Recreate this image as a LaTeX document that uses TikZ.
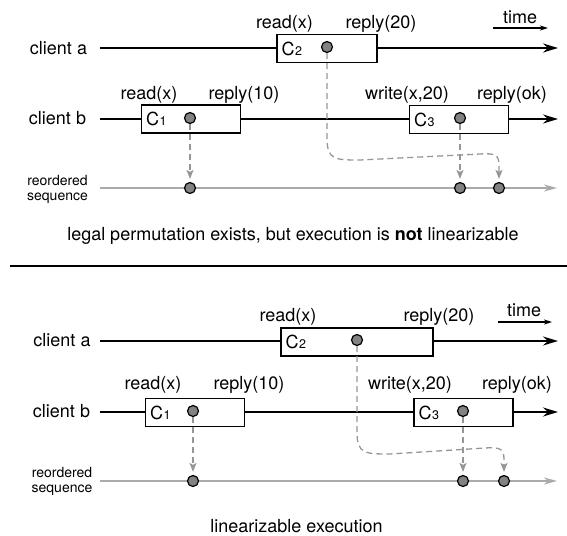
\documentclass[tikz,border=0pt]{standalone}
\usepackage{fontspec}
\setmainfont{TeX Gyre Heros}
\usetikzlibrary{arrows.meta}
\definecolor{dotgray}{RGB}{130,130,130}
\definecolor{dashgray}{RGB}{150,150,150}
\definecolor{seqgray}{RGB}{170,170,170}
\tikzset{
  timeline/.style={line width=1.8pt,-{Stealth[length=15pt,width=9pt,inset=5pt]}},
  seqline/.style={line width=1.6pt,draw=seqgray,-{Stealth[length=13pt,width=7pt,inset=4pt]}},
  opbox/.style={draw,line width=1.3pt,fill=white,minimum width=99pt,minimum height=28pt,inner sep=0pt},
  evdot/.style={circle,draw,line width=1.2pt,fill=dotgray,minimum size=11pt,inner sep=0pt},
  dasharrow/.style={draw=dashgray,line width=1.3pt,dash pattern=on 6pt off 4pt,shorten >=3pt,-{Stealth[length=9pt,width=7pt,inset=2pt]}},
  lbl/.style={font=\fontsize{18}{20}\selectfont,inner sep=0pt},
  small/.style={font=\fontsize{14}{17}\selectfont,inner sep=0pt,align=center},
  captxt/.style={font=\fontsize{18}{20}\selectfont,inner sep=0pt},
  timearrow/.style={line width=1.1pt,-{Stealth[length=8pt,width=5pt,inset=2pt]}},
}
\newcommand{\opname}[1]{C\kern0.5pt{\fontsize{12.5}{14}\selectfont #1}}
\begin{document}
\begin{tikzpicture}[x=1pt,y=-1pt]
\useasboundingbox (0,0) rectangle (567,535);
% ===================== top panel =====================
\coordinate (a0) at (100,48);
\coordinate (a1) at (558,48);
\coordinate (b0) at (100,119);
\coordinate (b1) at (558,119);
\coordinate (s0) at (100,188);
\coordinate (s1) at (557,188);
\coordinate (t0) at (493,28);
\coordinate (t1) at (548,28);
\node[lbl] (ca) at (58.5,48) {client a};
\node[lbl] (cb) at (57.5,118.5) {client b};
\node[small] (rs) at (57.5,189) {reordered\\[-2pt]sequence};
\draw[timeline] (a0) -- (a1);
\draw[timeline] (b0) -- (b1);
\draw[seqline] (s0) -- (s1);
\draw[timearrow] (t0) -- (t1);
\node[lbl] (time) at (520,17) {time};
\node[opbox,minimum width=100pt] (c2) at (327,48.5) {};
\node[opbox] (c1) at (191,119) {};
\node[opbox] (c3) at (459,119.5) {};
\node[lbl,anchor=west] (c2l) at ([xshift=5pt]c2.west) {\opname{2}};
\node[lbl,anchor=west] (c1l) at ([xshift=5pt]c1.west) {\opname{1}};
\node[lbl,anchor=west] (c3l) at ([xshift=5pt]c3.west) {\opname{3}};
\node[lbl] (r2) at (284.5,23.5) {read(x)};
\node[lbl] (p2) at (381,23.5) {reply(20)};
\node[lbl] (r1) at (149,94.5) {read(x)};
\node[lbl] (p1) at (244,94.5) {reply(10)};
\node[lbl] (w3) at (407,94.5) {write(x,20)};
\node[lbl] (p3) at (512,94.5) {reply(ok)};
\node[evdot] (d2) at (327,47) {};
\node[evdot] (d1) at (190,118) {};
\node[evdot] (d3) at (460,118) {};
\node[evdot] (e1) at (190,188) {};
\node[evdot] (e3) at (460,188) {};
\node[evdot] (e2) at (499,188) {};
\draw[dasharrow] (d1) -- (e1);
\draw[dasharrow] (d3) -- (e3);
\draw[dasharrow] (d2) -- (327,138) .. controls (327,160) and (335,160) .. (360,160) -- (480,154) .. controls (496,153) and (499,155) .. (499,166) -- (e2);
\node[captxt] (cap1) at (293,236) {legal permutation exists, but execution is \textbf{not} linearizable};
% separator
\coordinate (sep0) at (10,266);
\coordinate (sep1) at (567,266);
\draw[line width=1.6pt] (sep0) -- (sep1);
% ===================== bottom panel =====================
\coordinate (A0) at (100,341);
\coordinate (A1) at (558,341);
\coordinate (B0) at (100,412);
\coordinate (B1) at (558,412);
\coordinate (S0) at (100,481);
\coordinate (S1) at (557,481);
\coordinate (T0) at (498,322);
\coordinate (T1) at (552,322);
\node[lbl] (Ca) at (62,340.5) {client a};
\node[lbl] (Cb) at (61.5,411) {client b};
\node[small] (Rs) at (62,481) {reordered\\[-2pt]sequence};
\draw[timeline] (A0) -- (A1);
\draw[timeline] (B0) -- (B1);
\draw[seqline] (S0) -- (S1);
\draw[timearrow] (T0) -- (T1);
\node[lbl] (Time) at (524,310) {time};
\node[opbox,minimum width=152pt] (C2) at (357,342) {};
\node[opbox] (C1) at (195,412.5) {};
\node[opbox] (C3) at (463.5,412.5) {};
\node[lbl,anchor=west] (C2l) at ([xshift=5pt]C2.west) {\opname{2}};
\node[lbl,anchor=west] (C1l) at ([xshift=5pt]C1.west) {\opname{1}};
\node[lbl,anchor=west] (C3l) at ([xshift=5pt]C3.west) {\opname{3}};
\node[lbl] (R2) at (288,316.5) {read(x)};
\node[lbl] (P2) at (439,316.5) {reply(20)};
\node[lbl] (R1) at (153,385) {read(x)};
\node[lbl] (P1) at (249,385) {reply(10)};
\node[lbl] (W3) at (410,385) {write(x,20)};
\node[lbl] (P3) at (517,385) {reply(ok)};
\node[evdot] (D2) at (357,340) {};
\node[evdot] (D1) at (193,411) {};
\node[evdot] (D3) at (463,411) {};
\node[evdot] (E1) at (193,481) {};
\node[evdot] (E3) at (463,481) {};
\node[evdot] (E2) at (504,481) {};
\draw[dasharrow] (D1) -- (E1);
\draw[dasharrow] (D3) -- (E3);
\draw[dasharrow] (D2) -- (357,432) .. controls (357,454) and (365,454) .. (390,454) -- (485,448) .. controls (501,447) and (504,449) .. (504,460) -- (E2);
\node[captxt] (cap2) at (296.5,526) {linearizable execution};
\end{tikzpicture}
\end{document}
